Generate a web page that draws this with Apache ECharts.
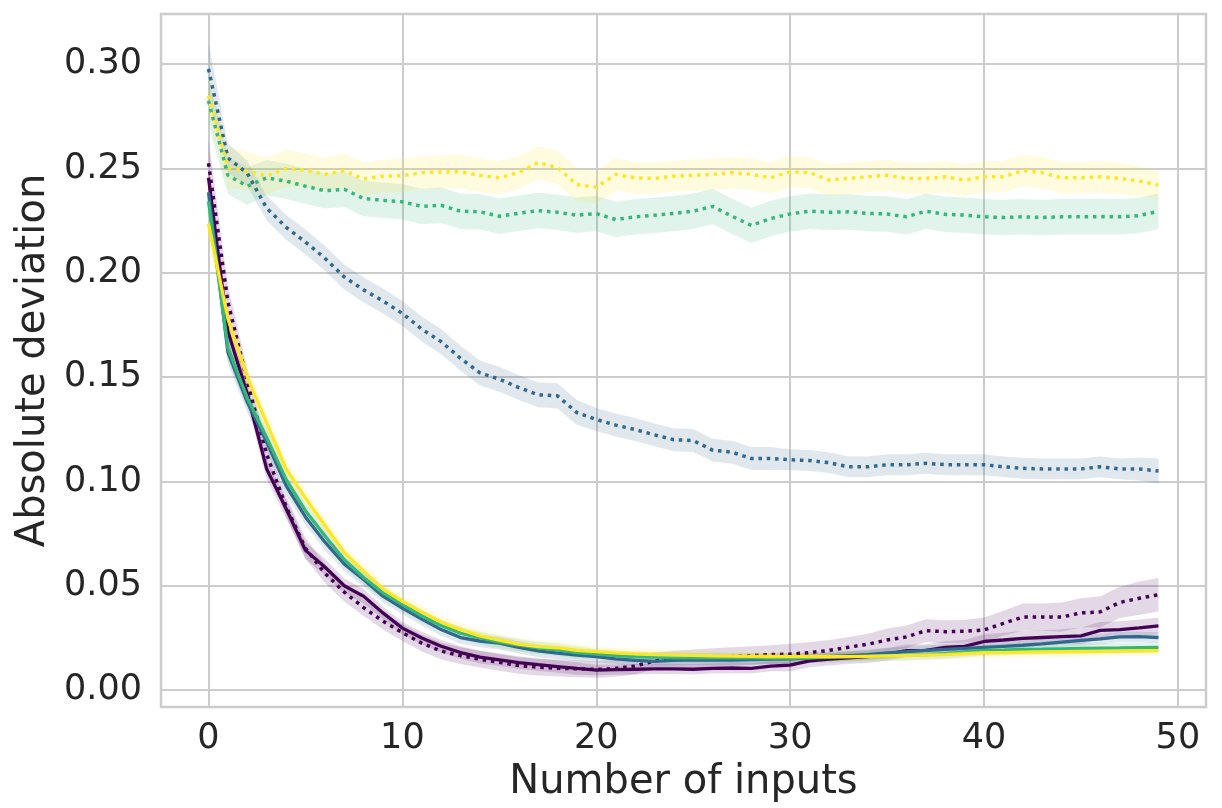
<!DOCTYPE html>
<html>
<head>
<meta charset="utf-8">
<script src="https://cdn.jsdelivr.net/npm/echarts@6/dist/echarts.min.js"></script>
<style>html,body{margin:0;padding:0;background:#fff}#c{width:1222px;height:808px}</style>
</head>
<body>
<div id="c"></div>
<script>
const inputs = [0,1,2,3,4,5,6,7,8,9,10,11,12,13,14,15,16,17,18,19,20,21,22,23,24,25,26,27,28,29,30,31,32,33,34,35,36,37,38,39,40,41,42,43,44,45,46,47,48,49];
const xTicks = [0,10,20,30,40,50];
const yTicks = [0,0.05,0.10,0.15,0.20,0.25,0.30];

const purpleSolid = [0.2455,0.172,0.142,0.106,0.087,0.067,0.059,0.050,0.045,0.037,
  0.0297,0.025,0.021,0.018,0.0158,0.0145,0.0132,0.0122,0.0113,0.0104,
  0.0096,0.0098,0.010,0.0102,0.0102,0.0100,0.0104,0.0106,0.0104,0.0115,
  0.012,0.014,0.0148,0.0155,0.016,0.0172,0.0189,0.019,0.0205,0.021,
  0.0233,0.024,0.0248,0.0252,0.0256,0.026,0.0286,0.029,0.0298,0.0308];
const purpleDotted = [0.2525,0.186,0.148,0.113,0.088,0.068,0.056,0.047,0.0395,0.033,
  0.0275,0.0225,0.0187,0.0165,0.0148,0.0133,0.0118,0.011,0.0105,0.0102,
  0.0099,0.0104,0.0115,0.014,0.0148,0.015,0.0155,0.016,0.0165,0.017,
  0.0172,0.018,0.019,0.0205,0.022,0.024,0.0255,0.0285,0.028,0.0282,
  0.0288,0.032,0.035,0.035,0.035,0.037,0.0375,0.042,0.044,0.0457];
const blueSolid = [0.2385,0.162,0.138,0.119,0.098,0.083,0.071,0.0605,0.053,0.045,
  0.0393,0.034,0.029,0.0252,0.0235,0.0225,0.0205,0.0188,0.0177,0.0168,
  0.016,0.015,0.0142,0.0138,0.0142,0.0145,0.0144,0.0144,0.0146,0.0148,
  0.015,0.0155,0.016,0.0165,0.017,0.0178,0.0184,0.019,0.0195,0.020,
  0.0205,0.021,0.0215,0.0222,0.023,0.0238,0.0245,0.0255,0.0256,0.0252];
const blueDotted = [0.2977,0.255,0.2477,0.231,0.2218,0.2147,0.207,0.198,0.1918,0.1865,
  0.1805,0.173,0.167,0.159,0.152,0.149,0.145,0.1415,0.141,0.133,
  0.1297,0.127,0.1249,0.1223,0.120,0.1196,0.115,0.114,0.111,0.111,
  0.1104,0.110,0.109,0.107,0.107,0.108,0.108,0.1087,0.108,0.108,
  0.108,0.107,0.1063,0.106,0.106,0.106,0.107,0.106,0.106,0.105];
const greenSolid = [0.2343,0.164,0.140,0.121,0.101,0.086,0.074,0.0625,0.054,0.0465,
  0.041,0.0355,0.031,0.0273,0.025,0.023,0.0215,0.0202,0.0193,0.018,
  0.0172,0.0165,0.016,0.0158,0.0156,0.0155,0.0155,0.0154,0.0154,0.0153,
  0.0153,0.0155,0.0157,0.016,0.0162,0.0165,0.0168,0.017,0.0175,0.0183,
  0.019,0.0192,0.0195,0.0196,0.0198,0.02,0.0201,0.0202,0.0204,0.0205];
const greenDotted = [0.2824,0.2467,0.2415,0.2455,0.2439,0.2415,0.2393,0.240,0.2356,0.2347,
  0.234,0.2318,0.2323,0.2295,0.2292,0.2271,0.2285,0.2298,0.229,0.2276,
  0.2284,0.2255,0.2268,0.2276,0.2284,0.2295,0.2318,0.2271,0.2227,0.226,
  0.2282,0.2295,0.229,0.2292,0.2284,0.2282,0.2268,0.2295,0.228,0.2276,
  0.2268,0.2265,0.2268,0.2265,0.2268,0.2268,0.2268,0.2268,0.2274,0.2295];
const yellowSolid = [0.2235,0.178,0.150,0.128,0.106,0.092,0.079,0.066,0.057,0.0485,
  0.0425,0.0375,0.0325,0.029,0.026,0.024,0.022,0.0208,0.0203,0.019,
  0.0184,0.0178,0.0174,0.017,0.0168,0.0166,0.0164,0.0163,0.0162,0.0161,
  0.016,0.016,0.016,0.016,0.0162,0.0164,0.0166,0.0168,0.017,0.0175,
  0.018,0.018,0.0182,0.0183,0.0184,0.0185,0.0186,0.0187,0.0188,0.0189];
const yellowDotted = [0.2849,0.2504,0.2487,0.2463,0.250,0.2492,0.2471,0.249,0.2449,0.2463,
  0.2465,0.248,0.2483,0.2484,0.2467,0.2455,0.248,0.2528,0.2504,0.2423,
  0.241,0.2471,0.2455,0.2452,0.2463,0.2467,0.2472,0.248,0.2472,0.2455,
  0.2484,0.248,0.2444,0.2452,0.246,0.2467,0.2452,0.2452,0.246,0.2444,
  0.246,0.246,0.249,0.248,0.2455,0.2455,0.246,0.2452,0.244,0.242];

// half-widths of the shaded bands
const ciSolid = [0.008,0.006,0.005,0.005,0.0045,0.004,0.004,0.0035,0.0035,0.003,
  0.003,0.003,0.003,0.003,0.003,0.003,0.003,0.003,0.003,0.003,
  0.0025,0.0025,0.0025,0.0025,0.0025,0.0025,0.0025,0.0025,0.0025,0.0025,
  0.0025,0.0025,0.0025,0.0025,0.0025,0.0025,0.0025,0.0025,0.0025,0.0025,
  0.0025,0.0025,0.0025,0.0025,0.0025,0.0025,0.0025,0.0025,0.0025,0.0025];
const ciPurpleSolid = [0.008,0.006,0.005,0.005,0.0045,0.004,0.004,0.0035,0.0035,0.003,
  0.003,0.003,0.003,0.003,0.003,0.003,0.003,0.003,0.003,0.003,
  0.0025,0.0025,0.0025,0.0025,0.0025,0.0025,0.0025,0.0025,0.0025,0.0025,
  0.003,0.003,0.003,0.003,0.003,0.003,0.003,0.003,0.003,0.003,
  0.0035,0.0035,0.0035,0.0035,0.0035,0.004,0.004,0.004,0.004,0.004];
const ciPurpleDot = [0.012,0.008,0.006,0.005,0.005,0.005,0.0045,0.0045,0.004,0.004,
  0.004,0.004,0.004,0.004,0.004,0.004,0.004,0.004,0.004,0.004,
  0.004,0.004,0.004,0.004,0.004,0.0045,0.0045,0.0045,0.0045,0.0045,
  0.005,0.005,0.005,0.005,0.005,0.0055,0.0055,0.0055,0.0055,0.0055,
  0.006,0.006,0.0065,0.0065,0.007,0.007,0.0075,0.0075,0.008,0.008];
const ciBlueDot = [0.013,0.007,0.006,0.006,0.006,0.006,0.006,0.006,0.006,0.006,
  0.006,0.006,0.006,0.006,0.006,0.006,0.006,0.006,0.006,0.006,
  0.0055,0.0055,0.0055,0.0055,0.0055,0.0055,0.0055,0.0055,0.0055,0.0055,
  0.005,0.005,0.005,0.005,0.005,0.005,0.005,0.005,0.005,0.005,
  0.005,0.005,0.005,0.005,0.005,0.005,0.005,0.005,0.0055,0.006];
const ciGreenDot = [0.012,0.009,0.009,0.0085,0.0085,0.0085,0.0085,0.0085,0.0085,0.0085,
  0.0085,0.0085,0.0085,0.0085,0.0085,0.0085,0.0085,0.0085,0.0085,0.0085,
  0.0085,0.0085,0.0085,0.0085,0.0085,0.0085,0.0085,0.0085,0.0085,0.0085,
  0.0085,0.0085,0.0085,0.0085,0.0085,0.0085,0.0085,0.0085,0.0085,0.0085,
  0.0085,0.0085,0.0085,0.0085,0.0085,0.0085,0.0085,0.0085,0.0085,0.0085];
const ciYellowDot = [0.01,0.01,0.009,0.009,0.009,0.008,0.008,0.008,0.008,0.008,
  0.008,0.008,0.008,0.008,0.008,0.008,0.008,0.008,0.008,0.008,
  0.008,0.008,0.0075,0.0075,0.0075,0.0075,0.0075,0.0075,0.0075,0.0075,
  0.0075,0.0075,0.0075,0.0075,0.0075,0.0075,0.0075,0.0075,0.0075,0.0075,
  0.0075,0.0075,0.0075,0.0075,0.0075,0.0075,0.0075,0.0075,0.007,0.007];

const PURPLE = '#440154', BLUE = '#31688e', GREEN = '#35b779', YELLOW = '#fde725';

const lines = [
  {name:'purple solid', mean:purpleSolid, ci:ciPurpleSolid, color:PURPLE, dotted:false},
  {name:'purple dotted', mean:purpleDotted, ci:ciPurpleDot, color:PURPLE, dotted:true},
  {name:'blue solid', mean:blueSolid, ci:ciSolid, color:BLUE, dotted:false},
  {name:'blue dotted', mean:blueDotted, ci:ciBlueDot, color:BLUE, dotted:true},
  {name:'green solid', mean:greenSolid, ci:ciSolid, color:GREEN, dotted:false},
  {name:'green dotted', mean:greenDotted, ci:ciGreenDot, color:GREEN, dotted:true},
  {name:'yellow solid', mean:yellowSolid, ci:ciSolid, color:YELLOW, dotted:false},
  {name:'yellow dotted', mean:yellowDotted, ci:ciYellowDot, color:YELLOW, dotted:true}
];

const series = [];
lines.forEach((l) => {
  const upper = inputs.map((x, i) => [x, l.mean[i] + l.ci[i]]);
  const lower = inputs.map((x, i) => [x, l.mean[i] - l.ci[i]]);
  series.push({
    type:'custom', silent:true, z:1, clip:true,
    data:[[inputs[0], l.mean[0]]],
    renderItem:function(params, api){
      const pts = [];
      upper.forEach(p => pts.push(api.coord(p)));
      for (let i = lower.length - 1; i >= 0; i--) pts.push(api.coord(lower[i]));
      return {
        type:'polygon',
        shape:{points:pts},
        style:{fill:l.color, opacity:0.15, stroke:'rgba(255,255,255,0.35)', lineWidth:1}
      };
    }
  });
});
lines.forEach((l) => {
  series.push({
    name:l.name, type:'line', data:inputs.map((x, i) => [x, l.mean[i]]),
    symbol:'none', z:3,
    lineStyle:{color:l.color, width:l.dotted ? 3.5 : 3.3, type:l.dotted ? [3.5,4.8] : 'solid', cap:'butt'}
  });
});

const txt = '#262626';
const chart = echarts.init(document.getElementById('c'));
chart.setOption({
  animation:false,
  backgroundColor:'#ffffff',
  textStyle:{fontFamily:'DejaVu Sans'},
  grid:{left:161, right:16, top:14, bottom:101, show:true, borderColor:'#cccccc', borderWidth:2.5, backgroundColor:'transparent'},
  xAxis:{
    type:'value', min:-2.45, max:51.45,
    axisLine:{show:false}, axisTick:{show:false, customValues:xTicks},
    axisLabel:{customValues:xTicks, fontSize:35, color:txt, margin:14, fontFamily:'DejaVu Sans'},
    splitLine:{show:true, lineStyle:{color:'#cccccc', width:2}},
    name:'Number of inputs', nameLocation:'middle', nameGap:56,
    nameTextStyle:{fontSize:40, color:txt, fontFamily:'DejaVu Sans'}
  },
  yAxis:{
    type:'value', min:-0.0081, max:0.324,
    axisLine:{show:false}, axisTick:{show:false, customValues:yTicks},
    axisLabel:{customValues:yTicks, fontSize:35, color:txt, margin:19, fontFamily:'DejaVu Sans',
      formatter:(v) => v.toFixed(2)},
    splitLine:{show:true, lineStyle:{color:'#cccccc', width:2}},
    name:'Absolute deviation', nameLocation:'middle', nameGap:106, nameRotate:90,
    nameTextStyle:{fontSize:40, color:txt, fontFamily:'DejaVu Sans'}
  },
  series:series
});
</script>
</body>
</html>
